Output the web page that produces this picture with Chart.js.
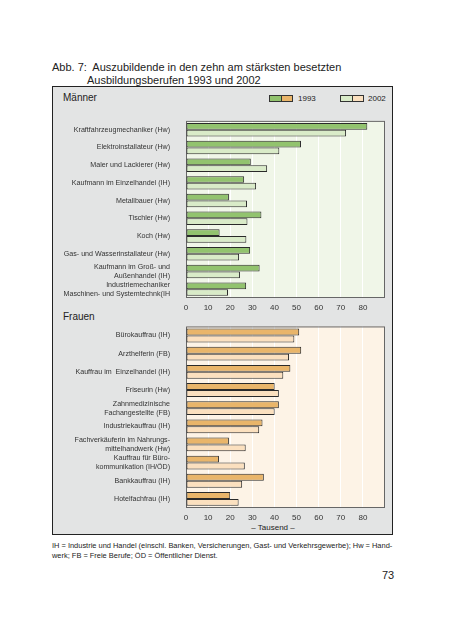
<!DOCTYPE html>
<html>
<head>
<meta charset="utf-8">
<script src="https://cdn.jsdelivr.net/npm/chart.js@4"></script>
<style>
  body { margin: 0; background: #fff; font-family: "Liberation Sans", Arial, sans-serif; color: #222; }
  .abs { position: absolute; white-space: nowrap; }
  #box { position: absolute; left: 52px; top: 86px; width: 339px; height: 447px; background: #e3e4e4; border: 1px solid #222; }
  .leg { position: absolute; top: 95px; width: 24px; height: 7px; border: 1px solid #333; box-sizing: border-box; display: flex; }
  .leg span { flex: 1; }
  canvas { position: absolute; }
</style>
</head>
<body>
<div class="abs" style="left:52px; top:61px; font-size:11px; line-height:13px;">Abb. 7:&nbsp; Auszubildende in den zehn am stärksten besetzten<br><span style="padding-left:35px">Ausbildungsberufen 1993 und 2002</span></div>
<div id="box"></div>
<div class="abs" style="left:63px; top:92px; font-size:10px;">Männer</div>
<div class="leg" style="left:269px;"><span style="background:#92c36e;border-right:1px solid #333"></span><span style="background:#e9b56a"></span></div>
<div class="abs" style="left:298px; top:94px; font-size:8px;">1993</div>
<div class="leg" style="left:340px;"><span style="background:#d9ebc8;border-right:1px solid #333"></span><span style="background:#fbe0bf"></span></div>
<div class="abs" style="left:368px; top:94px; font-size:8px;">2002</div>
<div class="abs" style="left:63px; top:311px; font-size:10px;">Frauen</div>
<div class="abs" style="left:273px; top:523px; font-size:8px; transform:translateX(-50%);">– Tausend –</div>
<div class="abs" style="left:52px; top:541px; font-size:7.45px; line-height:10px;">IH = Industrie und Handel (einschl. Banken, Versicherungen, Gast- und Verkehrsgewerbe); Hw = Hand-<br>werk; FB = Freie Berufe; ÖD = Öffentlicher Dienst.</div>
<div class="abs" style="left:382px; top:569px; font-size:11px;">73</div>

<canvas id="chartM" width="339" height="212" style="left:53px; top:104px;"></canvas>
<canvas id="chartF" width="339" height="212" style="left:53px; top:314px;"></canvas>

<script>
const berufeM = ['Kraftfahrzeugmechaniker (Hw)', 'Elektroinstallateur (Hw)', 'Maler und Lackierer (Hw)',
  'Kaufmann im Einzelhandel (IH)', 'Metallbauer (Hw)', 'Tischler (Hw)', 'Koch (Hw)',
  'Gas- und Wasserinstallateur (Hw)', ['Kaufmann im Groß- und', 'Außenhandel (IH)'],
  ['Industriemechaniker', 'Maschinen- und Systemtechnk(IH']];
const m1993 = [82, 52, 29.3, 26.3, 19.4, 34.1, 15.2, 29, 33.3, 27.2];
const m2002 = [72.4, 42.2, 36.7, 31.7, 27.6, 27.8, 27.3, 24, 24.4, 19];

const berufeF = ['Bürokauffrau (IH)', 'Arzthelferin (FB)', 'Kauffrau im  Einzelhandel (IH)', 'Friseurin (Hw)',
  ['Zahnmedizinische', 'Fachangestellte (FB)'], 'Industriekauffrau (IH)',
  ['Fachverkäuferin im Nahrungs-', 'mittelhandwerk (Hw)'], ['Kauffrau für Büro-', 'kommunikation (IH/ÖD)'],
  'Bankkauffrau (IH)', 'Hotelfachfrau (IH)'];
const f1993 = [51.2, 52.1, 47.2, 40.1, 42, 34.6, 19.4, 14.9, 35.2, 20];
const f2002 = [49, 46.6, 44, 42, 40.1, 33.1, 27, 26.6, 25.4, 23.8];

const xTicks = [0, 10, 20, 30, 40, 50, 60, 70, 80];

const fontName = '"Liberation Sans", Arial, sans-serif';

// Hintergrund und Rahmen der Zeichenfläche
const rahmen = {
  id: 'rahmen',
  beforeDraw(chart, args, opts) {
    const a = chart.chartArea;
    const c = chart.ctx;
    c.save();
    c.fillStyle = opts.bg;
    c.fillRect(a.left, a.top, a.right - a.left, a.bottom - a.top);
    c.restore();
  },
  beforeDatasetsDraw(chart) {
    const a = chart.chartArea;
    const c = chart.ctx;
    c.save();
    c.strokeStyle = '#666';
    c.lineWidth = 1;
    c.strokeRect(a.left + 0.5, a.top + 0.5, a.right - a.left - 1, a.bottom - a.top - 1);
    c.restore();
  }
};

function machChart(id, labels, d1993, d2002, farbe1, farbe2, bg) {
  return new Chart(document.getElementById(id), {
    type: 'bar',
    data: {
      labels: labels,
      datasets: [
        { label: '1993', data: d1993, backgroundColor: farbe1, borderColor: '#2a2a2a', borderWidth: 1, borderSkipped: false },
        { label: '2002', data: d2002, backgroundColor: farbe2, borderColor: '#2a2a2a', borderWidth: 1, borderSkipped: false }
      ]
    },
    options: {
      indexAxis: 'y',
      responsive: false,
      animation: false,
      layout: { padding: { top: 6, right: 7, left: 0, bottom: 0 } },
      datasets: { bar: { categoryPercentage: 0.76, barPercentage: 1 } },
      plugins: {
        legend: { display: false },
        tooltip: { enabled: false },
        rahmen: { bg: bg }
      },
      scales: {
        x: {
          min: 0, max: 90,
          afterBuildTicks: s => { s.ticks = xTicks.map(v => ({ value: v })); },
          afterFit: s => { s.height = 18; },
          grid: { color: '#ffffff', lineWidth: 1, drawTicks: false },
          border: { display: false },
          ticks: { padding: 5, color: '#333', font: { family: fontName, size: 8 } }
        },
        y: {
          afterFit: s => { s.width = 133; },
          grid: { display: false },
          border: { display: false },
          ticks: { padding: 8, color: '#333', font: { family: fontName, size: 7.1, lineHeight: 1.25 }, autoSkip: false }
        }
      }
    },
    plugins: [rahmen]
  });
}

machChart('chartM', berufeM, m1993, m2002, '#92c36e', '#d9ebc8', '#f0f6e8');
machChart('chartF', berufeF, f1993, f2002, '#e9b56a', '#fbe0bf', '#fdf3e6');
</script>
</body>
</html>
